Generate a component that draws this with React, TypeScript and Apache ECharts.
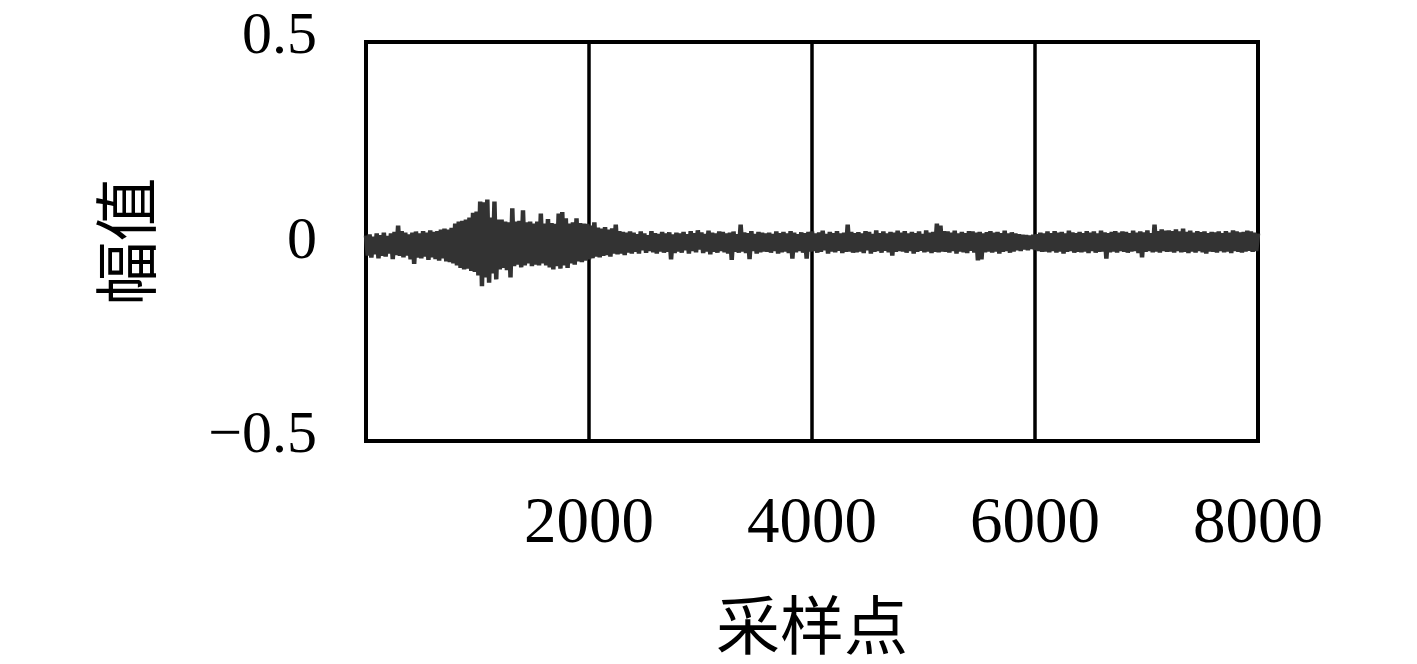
import React, { useEffect, useRef } from "react";
import * as echarts from "echarts";

// Amplitude, one value every 16 samples (0 .. 8000)
const SAMPLE_STEP = 16;
const amplitude: number[] = [
  // 0-400
  0.015, -0.035, 0.018, -0.04, 0.012, -0.032, 0.02, -0.042, 0.016, -0.036, 0.022, -0.038, 0.014, -0.03, 0.02, -0.044, 0.024, -0.034, 0.04, -0.036, 0.026, -0.04, 0.022, -0.035, 0.018,
  // 400-800
  -0.045, 0.022, -0.056, 0.025, -0.04, 0.02, -0.042, 0.026, -0.038, 0.022, -0.046, 0.028, -0.04, 0.024, -0.044, 0.026, -0.048, 0.03, -0.042, 0.032, -0.05, 0.03, -0.052, 0.034, -0.055,
  // 800-1200
  0.045, -0.06, 0.05, -0.066, 0.052, -0.07, 0.055, -0.068, 0.06, -0.074, 0.072, -0.076, 0.075, -0.085, 0.1, -0.112, 0.098, -0.09, 0.105, -0.103, 0.06, -0.08, 0.1, -0.095, 0.055,
  // 1200-1600
  -0.07, 0.055, -0.066, 0.05, -0.072, 0.048, -0.09, 0.083, -0.062, 0.05, -0.058, 0.052, -0.065, 0.078, -0.06, 0.048, -0.055, 0.05, -0.062, 0.045, -0.058, 0.05, -0.06, 0.07, -0.055,
  // 1600-2000
  0.045, -0.06, 0.056, -0.065, 0.046, -0.07, 0.044, -0.062, 0.07, -0.068, 0.074, -0.06, 0.058, -0.066, 0.045, -0.055, 0.048, -0.058, 0.058, -0.05, 0.046, -0.052, 0.045, -0.048, 0.044,
  // 2000-2400
  -0.045, 0.04, -0.042, 0.048, -0.038, 0.035, -0.04, 0.032, -0.036, 0.036, -0.034, 0.03, -0.038, 0.033, -0.03, 0.042, -0.032, 0.026, -0.03, 0.024, -0.034, 0.022, -0.028, 0.025, -0.03,
  // 2400-2800
  0.022, -0.026, 0.018, -0.03, 0.025, -0.022, 0.02, -0.028, 0.016, -0.024, 0.026, -0.027, 0.021, -0.03, 0.019, -0.025, 0.024, -0.028, 0.02, -0.026, 0.023, -0.045, 0.018, -0.029, 0.022,
  // 2800-3200
  -0.025, 0.02, -0.028, 0.024, -0.022, 0.018, -0.03, 0.026, -0.024, 0.021, -0.027, 0.028, -0.02, 0.023, -0.029, 0.019, -0.025, 0.027, -0.032, 0.022, -0.026, 0.02, -0.028, 0.025, -0.024,
  // 3200-3600
  0.024, -0.027, 0.02, -0.03, 0.022, -0.046, 0.025, -0.026, 0.018, -0.028, 0.042, -0.025, 0.023, -0.029, 0.021, -0.044, 0.026, -0.024, 0.019, -0.03, 0.024, -0.027, 0.022, -0.025, 0.02,
  // 3600-4000
  -0.026, 0.022, -0.028, 0.019, -0.024, 0.025, -0.03, 0.021, -0.027, 0.024, -0.025, 0.02, -0.029, 0.026, -0.043, 0.022, -0.027, 0.018, -0.024, 0.023, -0.028, 0.021, -0.043, 0.024, -0.025,
  // 4000-4400
  0.025, -0.024, 0.02, -0.028, 0.023, -0.026, 0.027, -0.022, 0.019, -0.03, 0.024, -0.025, 0.021, -0.027, 0.026, -0.023, 0.02, -0.029, 0.022, -0.026, 0.042, -0.025, 0.024, -0.028, 0.021,
  // 4400-4800
  -0.027, 0.023, -0.025, 0.02, -0.029, 0.026, -0.022, 0.024, -0.03, 0.019, -0.026, 0.028, -0.024, 0.021, -0.028, 0.025, -0.023, 0.02, -0.027, 0.024, -0.035, 0.022, -0.026, 0.027, -0.024,
  // 4800-5200
  0.022, -0.025, 0.026, -0.028, 0.02, -0.024, 0.024, -0.03, 0.021, -0.026, 0.025, -0.023, 0.019, -0.027, 0.028, -0.025, 0.022, -0.029, 0.024, -0.026, 0.045, -0.027, 0.04, -0.025, 0.026,
  // 5200-5600
  -0.026, 0.025, -0.028, 0.022, -0.024, 0.027, -0.03, 0.02, -0.025, 0.024, -0.027, 0.021, -0.029, 0.026, -0.023, 0.025, -0.028, 0.022, -0.047, 0.024, -0.045, 0.02, -0.027, 0.023, -0.025,
  // 5600-6000
  0.026, -0.028, 0.022, -0.025, 0.024, -0.03, 0.021, -0.026, 0.027, -0.024, 0.02, -0.028, 0.023, -0.025, 0.02, -0.022, 0.018, -0.024, 0.017, -0.02, 0.016, -0.022, 0.015, -0.019, 0.017,
  // 6000-6400
  -0.021, 0.018, -0.024, 0.022, -0.026, 0.02, -0.025, 0.025, -0.027, 0.021, -0.024, 0.026, -0.028, 0.022, -0.025, 0.024, -0.03, 0.02, -0.026, 0.027, -0.024, 0.023, -0.028, 0.021, -0.026,
  // 6400-6800
  0.024, -0.027, 0.021, -0.025, 0.026, -0.029, 0.022, -0.024, 0.025, -0.028, 0.02, -0.026, 0.027, -0.025, 0.023, -0.043, 0.021, -0.027, 0.024, -0.025, 0.026, -0.028, 0.022, -0.024, 0.025,
  // 6800-7200
  -0.026, 0.024, -0.028, 0.021, -0.025, 0.027, -0.024, 0.022, -0.029, 0.025, -0.04, 0.023, -0.026, 0.028, -0.024, 0.021, -0.027, 0.042, -0.025, 0.026, -0.028, 0.03, -0.024, 0.027, -0.026,
  // 7200-7600
  0.028, -0.025, 0.026, -0.028, 0.03, -0.024, 0.025, -0.027, 0.032, -0.026, 0.024, -0.029, 0.027, -0.025, 0.022, -0.028, 0.026, -0.024, 0.023, -0.027, 0.025, -0.03, 0.021, -0.025, 0.024,
  // 7600-8000
  -0.026, 0.023, -0.028, 0.025, -0.024, 0.021, -0.027, 0.026, -0.025, 0.022, -0.029, 0.028, -0.024, 0.025, -0.026, 0.023, -0.028, 0.024, -0.025, 0.027, -0.023, 0.025, -0.026, 0.022, -0.024,
  0.02,
];

const xTicks = [0, 2000, 4000, 6000, 8000];
const yTicks = [-0.5, 0, 0.5];
const xName = "采样点";
const yName = "幅值";

const FONT = "'Liberation Serif', 'Noto Sans CJK SC', serif";

export default function App() {
  const ref = useRef<HTMLDivElement>(null);

  useEffect(() => {
    if (!ref.current) return;
    const chart = echarts.init(ref.current, undefined, { renderer: "svg" });
    const seriesData = amplitude.map((v, i) => [i * SAMPLE_STEP, v]);
    chart.setOption({
      animation: false,
      backgroundColor: "#fff",
      grid: {
        left: 366,
        right: 159,
        top: 42,
        bottom: 218,
        show: true,
        borderColor: "#000",
        borderWidth: 4,
        containLabel: false,
      },
      xAxis: {
        type: "value",
        min: xTicks[0],
        max: xTicks[xTicks.length - 1],
        interval: 2000,
        name: xName,
        nameLocation: "middle",
        nameGap: 154,
        nameTextStyle: { fontFamily: FONT, fontSize: 64, color: "#000" },
        axisLine: { show: false },
        axisTick: { show: false },
        splitLine: { show: true, lineStyle: { color: "#000", width: 3.5 } },
        axisLabel: {
          margin: 46,
          fontFamily: FONT,
          fontSize: 65,
          color: "#000",
          formatter: (v: number) => (v === xTicks[0] ? "" : String(v)),
        },
      },
      yAxis: {
        type: "value",
        min: yTicks[0],
        max: yTicks[yTicks.length - 1],
        interval: 0.5,
        name: yName,
        nameLocation: "middle",
        nameGap: 206,
        nameTextStyle: { fontFamily: FONT, fontSize: 64, color: "#000" },
        axisLine: { show: false },
        axisTick: { show: false },
        splitLine: { show: false },
        axisLabel: {
          margin: 49,
          fontFamily: FONT,
          fontSize: 60,
          color: "#000",
          formatter: (v: number) => {
            const s = v < 0 ? "\u2212" + String(-v) : String(v);
            return v === 0 ? "{m|" + s + "}" : "{e|" + s + "}";
          },
          rich: {
            m: { fontFamily: FONT, fontSize: 60, color: "#000", lineHeight: 52, padding: [0, 0, 8, 0] },
            e: { fontFamily: FONT, fontSize: 60, color: "#000", lineHeight: 44, padding: [0, 0, 18, 0] },
          },
        },
      },
      series: [
        {
          type: "line",
          data: seriesData,
          showSymbol: false,
          symbol: "none",
          lineStyle: { color: "#333333", width: 4.5 },
          z: 1,
        },
      ],
    });
    return () => chart.dispose();
  }, []);

  return (
    <div
      ref={ref}
      style={{ position: "fixed", left: 0, top: 0, width: 1417, height: 664, background: "#fff" }}
    />
  );
}
